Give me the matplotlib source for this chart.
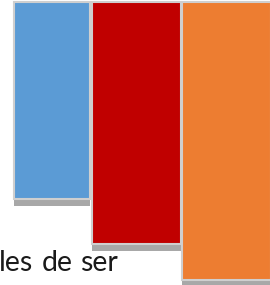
import matplotlib
matplotlib.use("Agg")
import matplotlib.pyplot as plt

# ---------------- DATA ----------------
categories = ["A", "B", "C"]
values = [197, 242, 278]          # bar lengths
colors = ["#5B9BD5", "#C00000", "#ED7D31"]
label_words = ["les", "de", "ser"]

# ---------------- LAYOUT ----------------
W, H = 270, 285
bar_left = [14, 92, 182]
bar_width = [76, 89, 89]
bar_top = 2
shadow_drop = 7
word_x = [-1, 42, 80]
word_y = 271

fig = plt.figure(figsize=(W / 100, H / 100), dpi=100)
ax = fig.add_axes([0, 0, 1, 1])
ax.set_xlim(0, W)
ax.set_ylim(H, 0)
ax.axis("off")

# shadow under each bar
ax.bar(bar_left, [v + shadow_drop for v in values], width=bar_width, bottom=bar_top,
       align="edge", color="#A8A8A8", linewidth=0, zorder=1)
# the bars themselves, with light grey outline
ax.bar(bar_left, values, width=bar_width, bottom=bar_top, align="edge",
       color=colors, edgecolor="#CFCFCF", linewidth=1.5, zorder=2)

for wx, word in zip(word_x, label_words):
    ax.text(wx, word_y, word, fontsize=20.5, family="Lato", color="#1A1A1A",
            va="baseline", ha="left", zorder=3)

fig.savefig("out.png", dpi=100)
